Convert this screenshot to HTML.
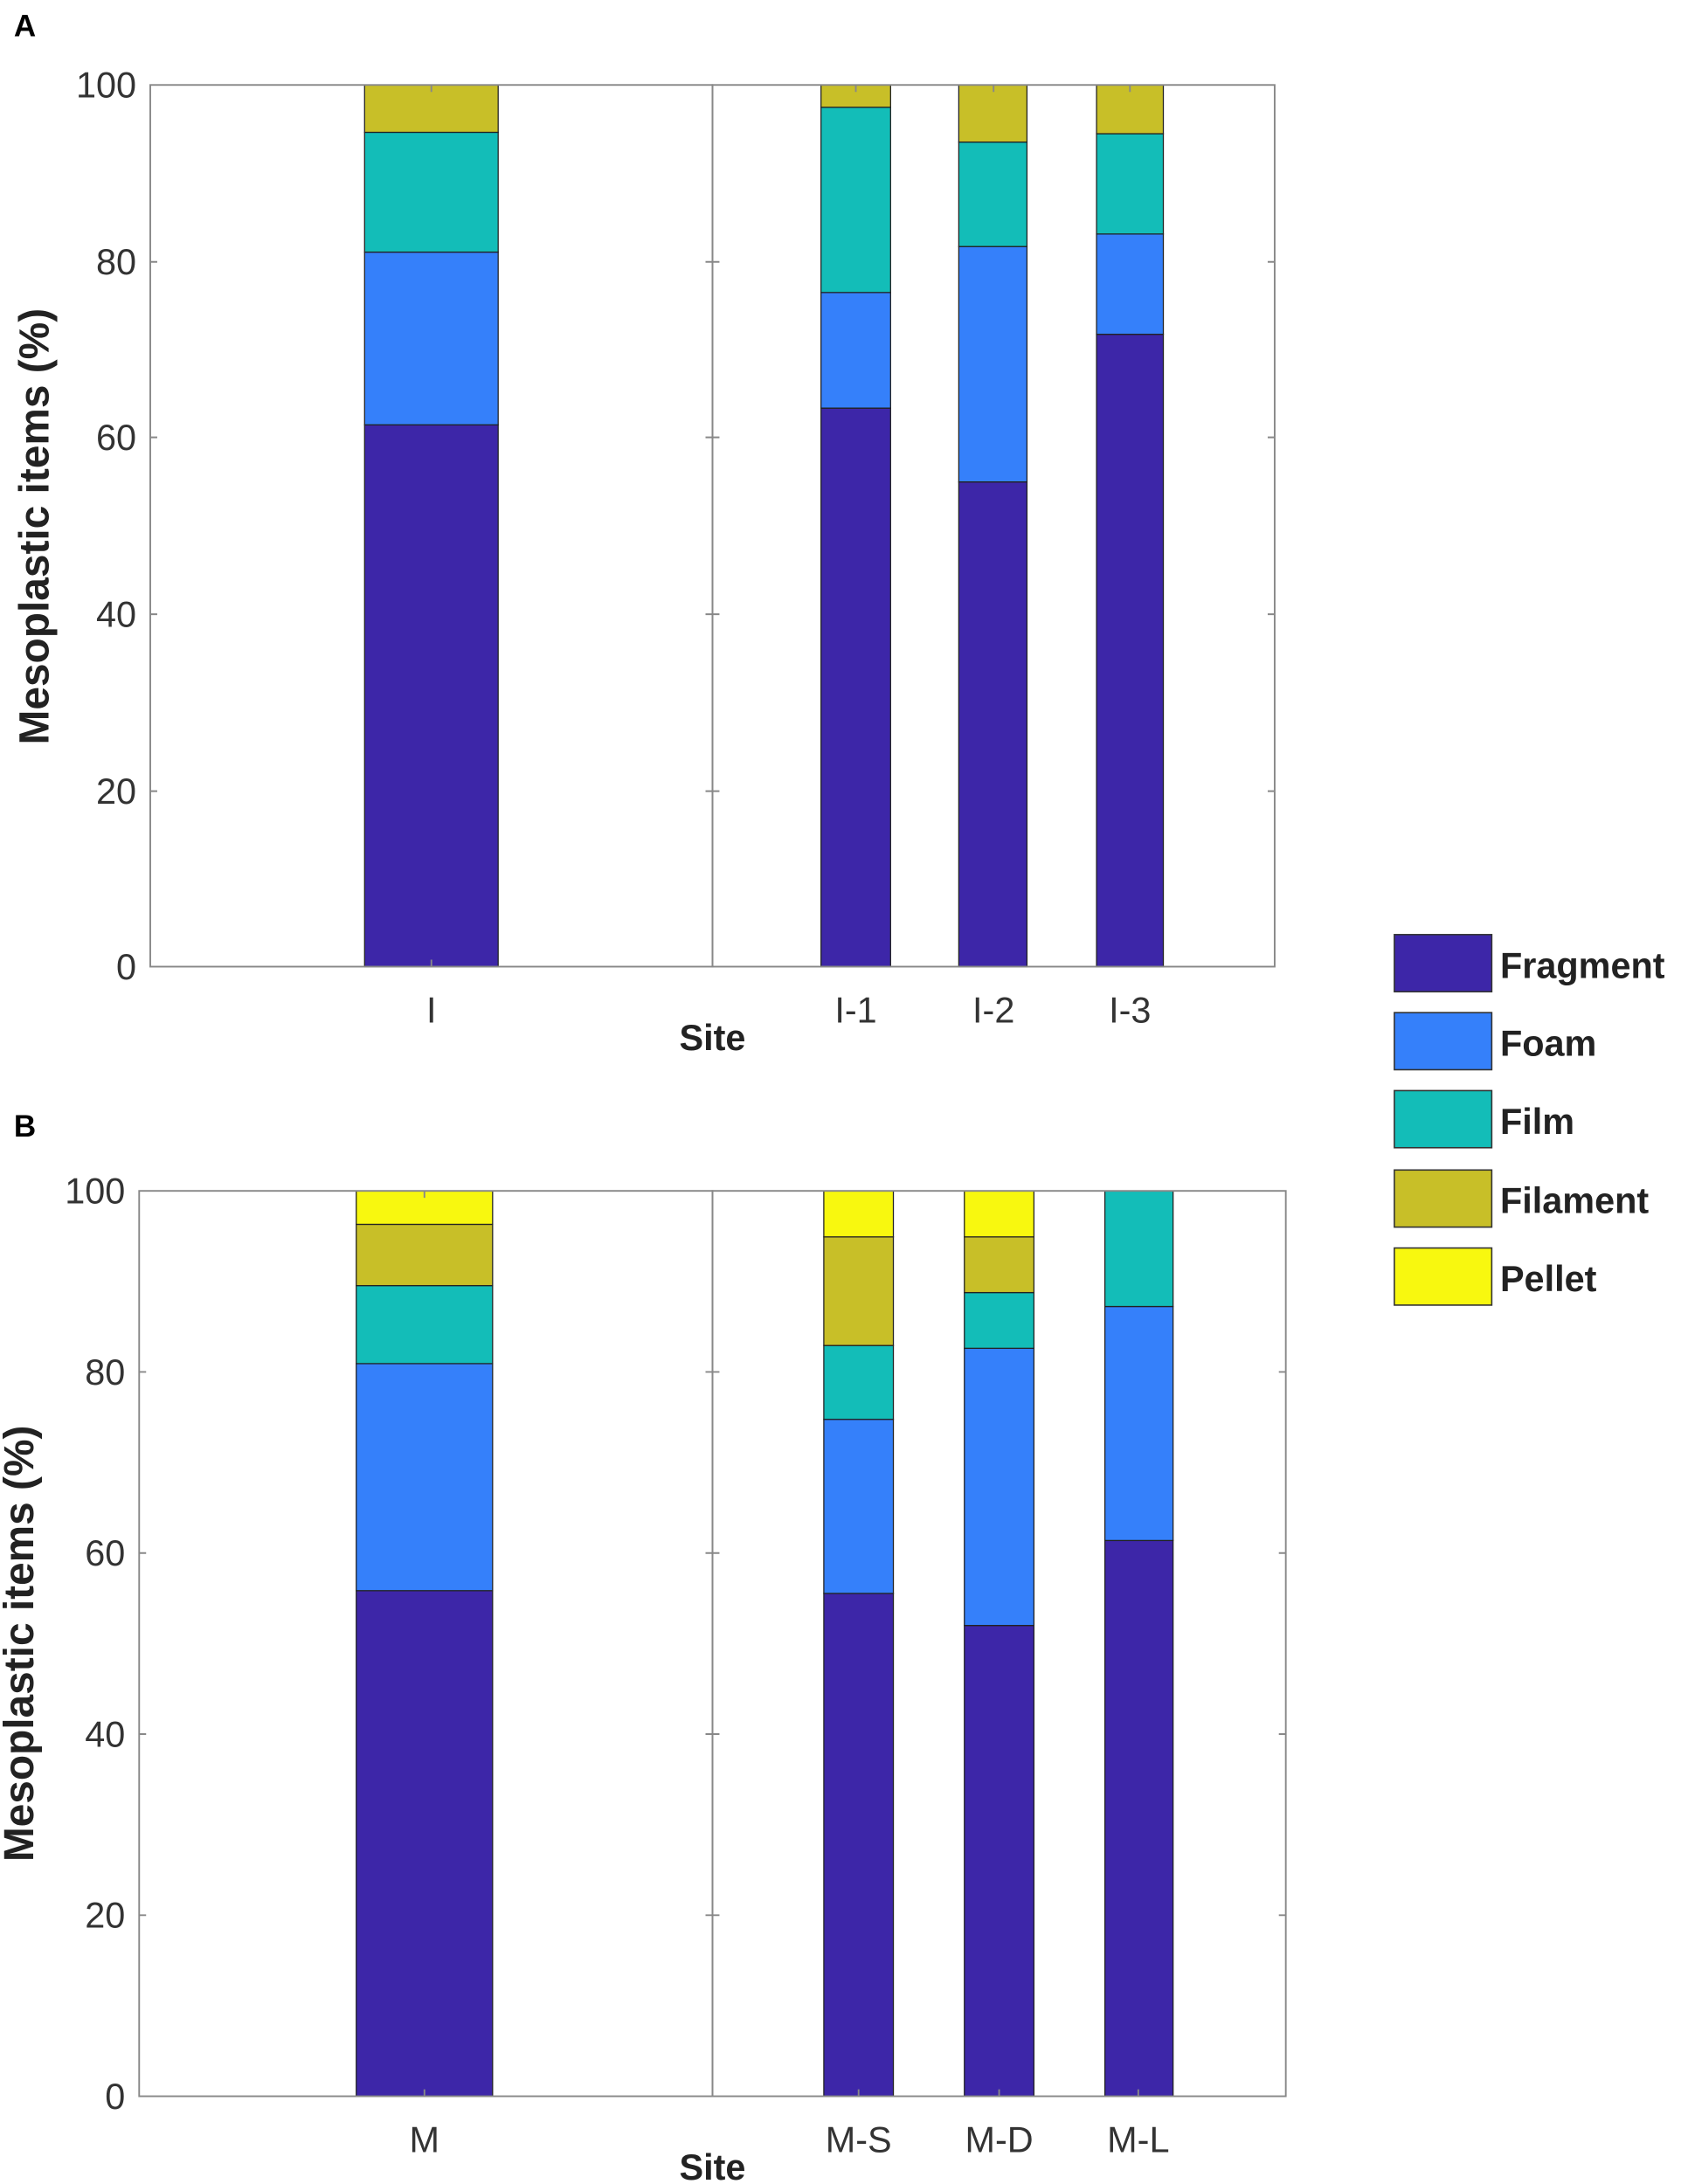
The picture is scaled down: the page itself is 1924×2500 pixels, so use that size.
<!DOCTYPE html>
<html><head><meta charset="utf-8"><style>html,body{margin:0;padding:0;background:#fff}svg{display:block}</style></head>
<body>
<svg width="1924" height="2500" viewBox="0 0 1208 1568" preserveAspectRatio="none" xmlns="http://www.w3.org/2000/svg" font-family="Liberation Sans, Arial, sans-serif">
<g stroke="#222" stroke-width="0.8">
<rect x="262" y="305" width="96" height="389" fill="#3d26a8"/>
<rect x="262" y="181" width="96" height="124" fill="#3580fa"/>
<rect x="262" y="95" width="96" height="86" fill="#13bdb8"/>
<rect x="262" y="61" width="96" height="34" fill="#c8bf28"/>
<rect x="590" y="293" width="50" height="401" fill="#3d26a8"/>
<rect x="590" y="210" width="50" height="83" fill="#3580fa"/>
<rect x="590" y="77" width="50" height="133" fill="#13bdb8"/>
<rect x="590" y="61" width="50" height="16" fill="#c8bf28"/>
<rect x="689" y="346" width="49" height="348" fill="#3d26a8"/>
<rect x="689" y="177" width="49" height="169" fill="#3580fa"/>
<rect x="689" y="102" width="49" height="75" fill="#13bdb8"/>
<rect x="689" y="61" width="49" height="41" fill="#c8bf28"/>
<rect x="788" y="240" width="48" height="454" fill="#3d26a8"/>
<rect x="788" y="168" width="48" height="72" fill="#3580fa"/>
<rect x="788" y="96" width="48" height="72" fill="#13bdb8"/>
<rect x="788" y="61" width="48" height="35" fill="#c8bf28"/>
<rect x="256" y="1142" width="98" height="363" fill="#3d26a8"/>
<rect x="256" y="979" width="98" height="163" fill="#3580fa"/>
<rect x="256" y="923" width="98" height="56" fill="#13bdb8"/>
<rect x="256" y="879" width="98" height="44" fill="#c8bf28"/>
<rect x="256" y="855" width="98" height="24" fill="#f8f80f"/>
<rect x="592" y="1144" width="50" height="361" fill="#3d26a8"/>
<rect x="592" y="1019" width="50" height="125" fill="#3580fa"/>
<rect x="592" y="966" width="50" height="53" fill="#13bdb8"/>
<rect x="592" y="888" width="50" height="78" fill="#c8bf28"/>
<rect x="592" y="855" width="50" height="33" fill="#f8f80f"/>
<rect x="693" y="1167" width="50" height="338" fill="#3d26a8"/>
<rect x="693" y="968" width="50" height="199" fill="#3580fa"/>
<rect x="693" y="928" width="50" height="40" fill="#13bdb8"/>
<rect x="693" y="888" width="50" height="40" fill="#c8bf28"/>
<rect x="693" y="855" width="50" height="33" fill="#f8f80f"/>
<rect x="794" y="1106" width="49" height="399" fill="#3d26a8"/>
<rect x="794" y="938" width="49" height="168" fill="#3580fa"/>
<rect x="794" y="855" width="49" height="83" fill="#13bdb8"/>
</g>
<g fill="none" stroke="#888" stroke-width="1.2">
<rect x="108" y="61" width="404" height="633"/>
<rect x="512" y="61" width="404" height="633"/>
<rect x="100" y="855" width="412" height="650"/>
<rect x="512" y="855" width="412" height="650"/>
<path d="M108 188h5M108 314h5M108 441h5M108 568h5M507 188h5M507 314h5M507 441h5M507 568h5M517 188h-5M517 314h-5M517 441h-5M517 568h-5M911 188h5M911 314h5M911 441h5M911 568h5"/>
<path d="M100 985h5M100 1115h5M100 1245h5M100 1375h5M507 985h5M507 1115h5M507 1245h5M507 1375h5M517 985h-5M517 1115h-5M517 1245h-5M517 1375h-5M919 985h5M919 1115h5M919 1245h5M919 1375h5"/>
<path d="M310 694v-5M310 61v5M615 61v5M714 61v5M812 61v5M305 855v5M305 1505v-5M617 1505v-5M718 1505v-5M818 1505v-5"/>
</g>
<g font-size="26" fill="#333" text-anchor="end">
<text x="98" y="70">100</text><text x="98" y="197">80</text><text x="98" y="323">60</text><text x="98" y="450">40</text><text x="98" y="577">20</text><text x="98" y="703">0</text>
<text x="90" y="864">100</text><text x="90" y="994">80</text><text x="90" y="1124">60</text><text x="90" y="1254">40</text><text x="90" y="1384">20</text><text x="90" y="1514">0</text>
</g>
<g font-size="26" fill="#333" text-anchor="middle">
<text x="310" y="734">I</text><text x="615" y="734">I-1</text><text x="714" y="734">I-2</text><text x="812" y="734">I-3</text>
<text x="305" y="1545">M</text><text x="617" y="1545">M-S</text><text x="718" y="1545">M-D</text><text x="818" y="1545">M-L</text>
</g>
<g font-size="26" font-weight="bold" fill="#222" text-anchor="middle">
<text x="512" y="754">Site</text><text x="512" y="1565">Site</text>
</g>
<g font-size="30" font-weight="bold" fill="#222" text-anchor="middle">
<text transform="translate(35,378) rotate(-90)">Mesoplastic items (%)</text>
<text transform="translate(24,1180) rotate(-90)">Mesoplastic items (%)</text>
</g>
<g font-size="22" font-weight="bold" fill="#000"><text x="10" y="26">A</text><text x="10" y="816">B</text></g>
<g stroke="#333" stroke-width="1">
<rect x="1002" y="671" width="70" height="41" fill="#3d26a8"/>
<rect x="1002" y="727" width="70" height="41" fill="#3580fa"/>
<rect x="1002" y="783" width="70" height="41" fill="#13bdb8"/>
<rect x="1002" y="840" width="70" height="41" fill="#c8bf28"/>
<rect x="1002" y="896" width="70" height="41" fill="#f8f80f"/>
</g>
<g font-size="26" font-weight="bold" fill="#222">
<text x="1078" y="702">Fragment</text><text x="1078" y="758">Foam</text><text x="1078" y="814">Film</text><text x="1078" y="871">Filament</text><text x="1078" y="927">Pellet</text>
</g>
</svg>
</body></html>
